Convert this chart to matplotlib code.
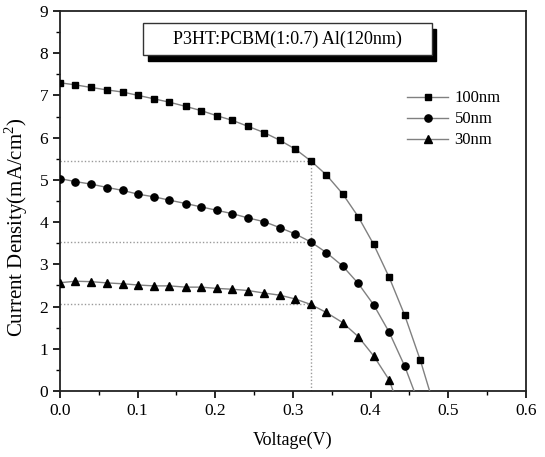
import numpy as np
import matplotlib
matplotlib.use("Agg")
import matplotlib.pyplot as plt
from matplotlib.patches import Rectangle
from matplotlib.ticker import MultipleLocator, FormatStrFormatter

plt.rcParams['font.family'] = ['Liberation Serif', 'DejaVu Serif']
plt.rcParams['mathtext.fontset'] = 'custom'
plt.rcParams['mathtext.rm'] = 'Liberation Serif'

# ── Data ──────────────────────────────────────────────────────
voltage = [0.000, 0.020, 0.040, 0.061, 0.081, 0.101, 0.121, 0.141, 0.162, 0.182,
           0.202, 0.222, 0.242, 0.263, 0.283, 0.303, 0.323, 0.343, 0.364, 0.384,
           0.404, 0.424, 0.444, 0.464]

j_100nm = [7.30, 7.25, 7.19, 7.13, 7.08, 7.00, 6.92, 6.84, 6.74, 6.64,
           6.52, 6.41, 6.27, 6.12, 5.94, 5.73, 5.45, 5.12, 4.67, 4.13,
           3.47, 2.69, 1.79, 0.73]
j_50nm = [5.03, 4.96, 4.90, 4.82, 4.75, 4.66, 4.60, 4.52, 4.44, 4.36,
          4.28, 4.20, 4.10, 4.01, 3.87, 3.72, 3.53, 3.28, 2.96, 2.55,
          2.04, 1.39, 0.585]
j_30nm = [2.565, 2.60, 2.59, 2.56, 2.54, 2.51, 2.49, 2.49, 2.46, 2.46,
          2.43, 2.41, 2.38, 2.32, 2.27, 2.18, 2.05, 1.86, 1.62, 1.29,
          0.83, 0.26]

voc = {"100nm": 0.476, "50nm": 0.456, "30nm": 0.429}
labels = ["100nm", "50nm", "30nm"]
markers = ["s", "o", "^"]
msizes = [4.6, 5.2, 5.8]
mpp_index = 16

# ── Plot ──────────────────────────────────────────────────────
fig = plt.figure(figsize=(5.45, 4.57), dpi=100)
ax = fig.add_axes([0.110, 0.1444, 0.855, 0.8315])

series = [j_100nm, j_50nm, j_30nm]
for lab, js, mk, ms in zip(labels, series, markers, msizes):
    v = np.array(voltage[:len(js)])
    j = np.array(js)
    ax.plot(np.append(v, voc[lab]), np.append(j, 0.0), color="#808080", lw=1.0,
            marker=mk, ms=ms, mfc="black", mec="black", markevery=slice(0, len(js)),
            label=lab, zorder=3)

# maximum power point guides
v_mpp = voltage[mpp_index]
j_mpp = [s[mpp_index] for s in series]
ax.hlines(j_mpp, 0, v_mpp, colors="#9a9a9a", linestyles=(0, (1, 1.5)), lw=1.0, zorder=2)
ax.vlines(v_mpp, 0, max(j_mpp), colors="#9a9a9a", linestyles=(0, (1, 1.5)), lw=1.0, zorder=2)

ax.set_xlim(0, 0.6)
ax.set_ylim(0, 9)
ax.xaxis.set_major_locator(MultipleLocator(0.1))
ax.xaxis.set_minor_locator(MultipleLocator(0.05))
ax.xaxis.set_major_formatter(FormatStrFormatter("%.1f"))
ax.yaxis.set_major_locator(MultipleLocator(1))
ax.yaxis.set_minor_locator(MultipleLocator(0.5))
ax.tick_params(which="major", direction="out", length=5, width=1.2, labelsize=12.5,
               top=False, right=False)
ax.tick_params(which="minor", direction="out", length=3, width=1.0, top=False, right=False)
for sp in ax.spines.values():
    sp.set_linewidth(1.3)
    sp.set_color("#222222")

ax.set_xlabel("Voltage(V)", fontsize=13, labelpad=9)
ax.set_ylabel(r"Current Density(mA/cm$^\mathregular{2}$)", fontsize=15)
ax.yaxis.set_label_coords(-0.064, 0.43)

# title box with drop shadow
ax.add_patch(Rectangle((0.189, 0.868), 0.619, 0.084, transform=ax.transAxes,
                       facecolor="black", edgecolor="black", zorder=4))
ax.add_patch(Rectangle((0.178, 0.884), 0.620, 0.084, transform=ax.transAxes,
                       facecolor="white", edgecolor="#333333", lw=1.0, zorder=5))
ax.text(0.488, 0.926, "P3HT:PCBM(1:0.7) Al(120nm)", transform=ax.transAxes,
        ha="center", va="center", fontsize=13, zorder=6)

ax.legend(loc="upper left", bbox_to_anchor=(0.745, 0.791), frameon=False,
          fontsize=12, handlelength=2.45, handletextpad=0.4, labelspacing=0.3,
          borderpad=0, borderaxespad=0)

fig.savefig("out.png", dpi=100)
